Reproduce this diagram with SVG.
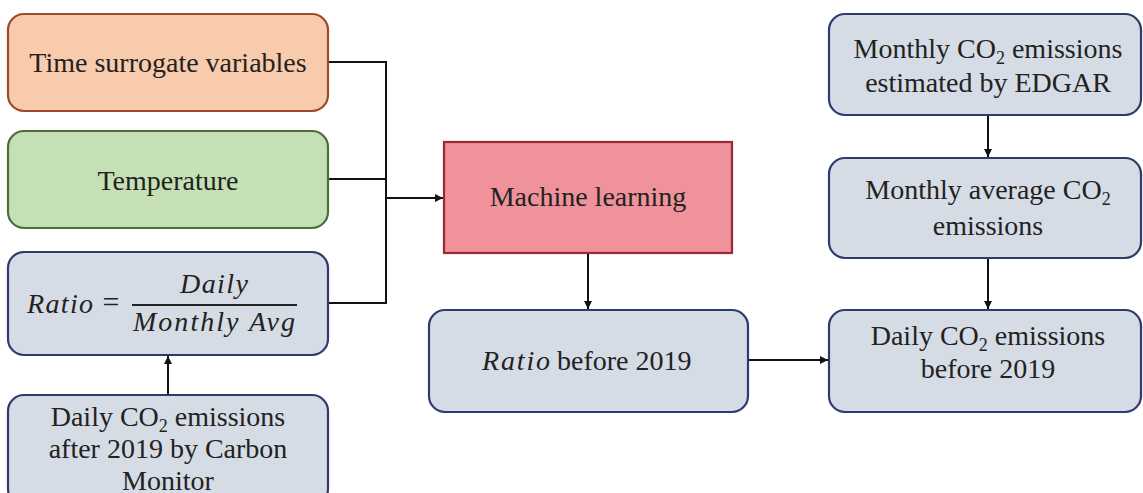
<svg xmlns="http://www.w3.org/2000/svg" width="1143" height="493" viewBox="0 0 1143 493">
  <style>
    .t { font-family: "Liberation Serif", "Times New Roman", serif; font-size: 28px; fill: #222; text-anchor: middle; }
    .m { font-family: "Liberation Serif", "Times New Roman", serif; font-style: italic; font-size: 28px; fill: #222; }
    .sub { font-size: 18px; }
    .box { stroke-width: 2.2; }
    .blue { fill: #D6DCE5; stroke: #2F3A6E; }
    .wire { fill: none; stroke: #111; stroke-width: 2; }
  </style>
  <defs>
    <marker id="arrow" viewBox="0 0 10 10" refX="10" refY="5" markerWidth="8" markerHeight="8" markerUnits="userSpaceOnUse" orient="auto">
      <path d="M0,0 L10,5 L0,10 z" fill="#111"/>
    </marker>
  </defs>

  <rect width="1143" height="493" fill="#fff"/>

  <!-- connectors -->
  <g id="connectors" class="wire">
    <path d="M328,62 H386 V303 H328"/>
    <path d="M328,179 H386"/>
    <path d="M386,198 H443" marker-end="url(#arrow)"/>
    <path d="M168,395 V356" marker-end="url(#arrow)"/>
    <path d="M588,253 V309" marker-end="url(#arrow)"/>
    <path d="M748,360 H828" marker-end="url(#arrow)"/>
    <path d="M988,115 V157" marker-end="url(#arrow)"/>
    <path d="M988,258 V309" marker-end="url(#arrow)"/>
  </g>

  <!-- left column -->
  <g id="time-surrogate">
    <rect class="box" x="8" y="14" width="320" height="97" rx="16" fill="#F8CBAD" stroke="#9E4A2A"/>
    <text class="t" x="168" y="72">Time surrogate variables</text>
  </g>

  <g id="temperature">
    <rect class="box" x="8" y="131" width="320" height="97" rx="16" fill="#C5E0B4" stroke="#4B6E3A"/>
    <text class="t" x="168" y="190">Temperature</text>
  </g>

  <g id="ratio-definition">
    <rect class="box blue" x="8" y="252" width="320" height="103" rx="16"/>
    <text class="m" x="27" y="313" textLength="66" lengthAdjust="spacing">Ratio</text>
    <text class="t" x="111" y="312" style="font-size:30px">=</text>
    <line x1="132" y1="305" x2="297" y2="305" stroke="#222" stroke-width="2"/>
    <text class="m" x="180" y="293" textLength="68" lengthAdjust="spacing">Daily</text>
    <text class="m" x="133" y="331" textLength="162" lengthAdjust="spacing">Monthly Avg</text>
  </g>

  <g id="carbon-monitor">
    <rect class="box blue" x="8" y="395" width="320" height="110" rx="16"/>
    <text class="t" x="168" y="426">Daily CO<tspan class="sub" dy="6">2</tspan><tspan dy="-6"> emissions</tspan></text>
    <text class="t" x="168" y="458">after 2019 by Carbon</text>
    <text class="t" x="168" y="490">Monitor</text>
  </g>

  <!-- middle column -->
  <g id="machine-learning">
    <rect class="box" x="444" y="142" width="288" height="111" fill="#EF929B" stroke="#9B2A35"/>
    <text class="t" x="588" y="206">Machine learning</text>
  </g>

  <g id="ratio-before-2019">
    <rect class="box blue" x="429" y="310" width="319" height="102" rx="16"/>
    <text class="m" x="482" y="370" textLength="68" lengthAdjust="spacing">Ratio</text>
    <text class="t" x="557" y="370" style="text-anchor:start">before 2019</text>
  </g>

  <!-- right column -->
  <g id="edgar-monthly">
    <rect class="box blue" x="829" y="14" width="312" height="101" rx="16"/>
    <text class="t" x="988" y="58">Monthly CO<tspan class="sub" dy="6">2</tspan><tspan dy="-6"> emissions</tspan></text>
    <text class="t" x="988" y="92">estimated by EDGAR</text>
  </g>

  <g id="monthly-average">
    <rect class="box blue" x="829" y="158" width="312" height="100" rx="16"/>
    <text class="t" x="988" y="199">Monthly average CO<tspan class="sub" dy="6">2</tspan></text>
    <text class="t" x="988" y="235">emissions</text>
  </g>

  <g id="daily-before-2019">
    <rect class="box blue" x="829" y="310" width="312" height="102" rx="16"/>
    <text class="t" x="988" y="345">Daily CO<tspan class="sub" dy="6">2</tspan><tspan dy="-6"> emissions</tspan></text>
    <text class="t" x="988" y="378">before 2019</text>
  </g>
</svg>
